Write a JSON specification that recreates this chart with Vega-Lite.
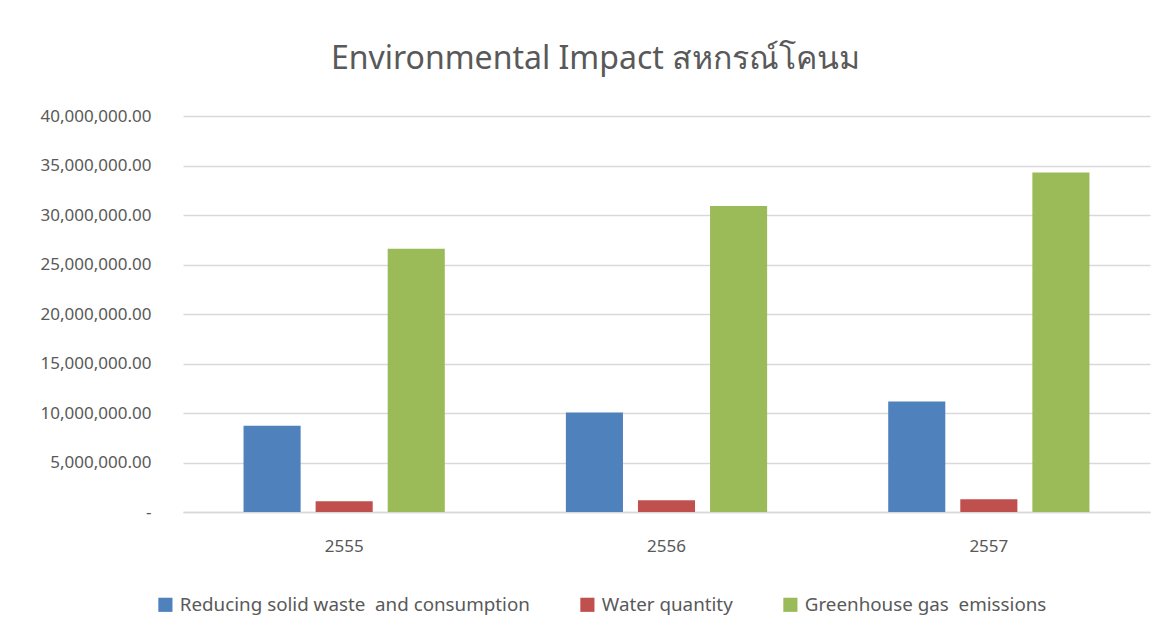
{
  "$schema": "https://vega.github.io/schema/vega-lite/v6.json",
  "autosize": "none",
  "width": 967,
  "height": 396,
  "padding": {"left": 183, "top": 116, "right": 24, "bottom": 125},
  "background": "white",
  "title": {
    "text": "Environmental Impact สหกรณ์โคนม",
    "font": "Noto Sans",
    "fontSize": 32,
    "fontWeight": "normal",
    "color": "#595959",
    "anchor": "middle",
    "dx": -71,
    "offset": 31
  },
  "data": {
    "values": [
      {"year": "2555", "series": "Reducing solid waste\u00a0 and consumption", "value": 8700000},
      {"year": "2555", "series": "Water quantity", "value": 1090000},
      {"year": "2555", "series": "Greenhouse gas\u00a0 emissions", "value": 26600000},
      {"year": "2556", "series": "Reducing solid waste\u00a0 and consumption", "value": 10050000},
      {"year": "2556", "series": "Water quantity", "value": 1190000},
      {"year": "2556", "series": "Greenhouse gas\u00a0 emissions", "value": 30900000},
      {"year": "2557", "series": "Reducing solid waste\u00a0 and consumption", "value": 11150000},
      {"year": "2557", "series": "Water quantity", "value": 1290000},
      {"year": "2557", "series": "Greenhouse gas\u00a0 emissions", "value": 34300000}
    ]
  },
  "mark": {"type": "bar"},
  "encoding": {
    "x": {
      "field": "year",
      "type": "nominal",
      "scale": {"paddingInner": 0, "paddingOuter": 0},
      "axis": {
        "title": null,
        "labelAngle": 0,
        "labelFont": "Noto Sans",
        "labelFontSize": 17,
        "labelColor": "#595959",
        "labelPadding": 26,
        "ticks": false,
        "domain": true,
        "domainColor": "#d9d9d9",
        "domainWidth": 1.5,
        "grid": false
      }
    },
    "xOffset": {
      "field": "series",
      "type": "nominal",
      "sort": ["Reducing solid waste\u00a0 and consumption", "Water quantity", "Greenhouse gas\u00a0 emissions"],
      "scale": {"paddingInner": 0.208, "paddingOuter": 0.84}
    },
    "y": {
      "field": "value",
      "type": "quantitative",
      "scale": {"domain": [0, 40000000], "nice": false},
      "axis": {
        "title": null,
        "values": [0, 5000000, 10000000, 15000000, 20000000, 25000000, 30000000, 35000000, 40000000],
        "labelExpr": "datum.value === 0 ? '-\u00a0\u00a0\u00a0' : format(datum.value, ',.2f')",
        "labelFont": "Noto Sans",
        "labelFontSize": 17,
        "labelColor": "#595959",
        "labelPadding": 32,
        "ticks": false,
        "domain": false,
        "grid": true,
        "gridColor": "#d9d9d9",
        "gridWidth": 1.3
      }
    },
    "color": {
      "field": "series",
      "type": "nominal",
      "sort": ["Reducing solid waste\u00a0 and consumption", "Water quantity", "Greenhouse gas\u00a0 emissions"],
      "scale": {
        "domain": ["Reducing solid waste\u00a0 and consumption", "Water quantity", "Greenhouse gas\u00a0 emissions"],
        "range": ["#4F81BD", "#C0504D", "#9BBB59"]
      },
      "legend": {
        "title": null,
        "orient": "none",
        "direction": "horizontal",
        "legendX": -27,
        "legendY": 479,
        "symbolType": "square",
        "symbolSize": 200,
        "symbolStrokeWidth": 0,
        "labelFont": "Noto Sans",
        "labelFontSize": 18.8,
        "labelColor": "#595959",
        "labelOffset": 5,
        "columnPadding": 48,
        "labelLimit": 500
      }
    }
  },
  "config": {
    "view": {"stroke": null}
  }
}
